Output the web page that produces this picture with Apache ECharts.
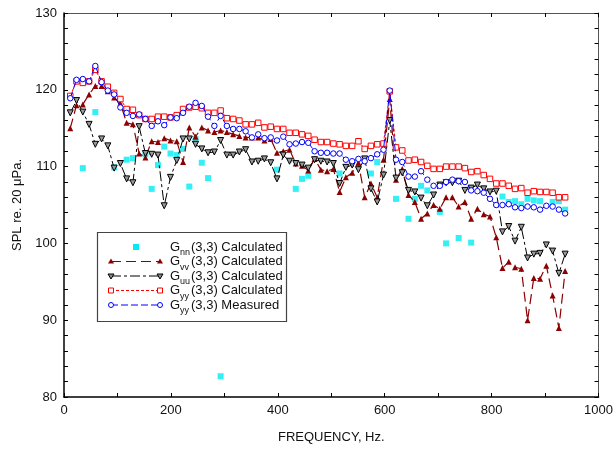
<!DOCTYPE html>
<html>
<head>
<meta charset="utf-8">
<script src="https://cdn.jsdelivr.net/npm/echarts@6/dist/echarts.min.js"></script>
<style>
  html, body { margin: 0; padding: 0; background: #fff; }
  #chart { width: 616px; height: 449px; }
</style>
</head>
<body>
<div id="chart"></div>
<script>
// Frequency grid of the narrow-band spectra (Hz)
const freq = [11.7, 23.4, 35.2, 46.9, 58.6, 70.3, 82.0, 93.8, 105.5, 117.2,
  128.9, 140.6, 152.3, 164.1, 175.8, 187.5, 199.2, 210.9, 222.7, 234.4,
  246.1, 257.8, 269.5, 281.3, 293.0, 304.7, 316.4, 328.1, 339.8, 351.6,
  363.3, 375.0, 386.7, 398.4, 410.2, 421.9, 433.6, 445.3, 457.0, 468.8,
  480.5, 492.2, 503.9, 515.6, 527.3, 539.1, 550.8, 562.5, 574.2, 585.9,
  597.7, 609.4, 621.1, 632.8, 644.5, 656.3, 668.0, 679.7, 691.4, 703.1,
  714.8, 726.6, 738.3, 750.0, 761.7, 773.4, 785.2, 796.9, 808.6, 820.3,
  832.0, 843.8, 855.5, 867.2, 878.9, 890.6, 902.3, 914.1, 925.8, 937.5];

// G_vv(3,3) calculated, dB
const gvv = [115.0, 118.0, 118.1, 119.4, 120.5, 120.5, 119.8, 119.0, 118.2, 115.7,
  115.5, 111.7, 111.2, 113.3, 113.2, 113.7, 113.4, 113.3, 110.6, 115.1,
  113.9, 115.1, 114.7, 114.5, 114.7, 114.5, 114.2, 114.0, 113.8, 113.8,
  113.8, 113.4, 113.6, 111.8, 112.0, 112.2, 110.4, 110.1, 109.5, 111.0,
  109.6, 109.4, 109.7, 106.7, 108.6, 109.2, 110.5, 106.0, 107.8, 106.0,
  110.9, 118.8, 108.3, 109.7, 106.3, 105.4, 103.2, 103.9, 105.0, 104.5,
  106.0, 106.0, 104.8, 105.4, 103.2, 104.5, 103.8, 103.5, 100.8, 96.8,
  97.6, 96.9, 96.7, 90.0, 95.5, 95.4, 97.1, 93.2, 89.0, 96.4];

// G_uu(3,3) calculated, dB
const guu = [117.0, 118.6, 117.1, 115.5, 112.9, 113.6, 112.7, 109.8, 110.4, 108.4,
  107.9, 115.2, 111.7, 111.6, 111.5, 104.9, 108.6, 110.8, 113.6, 113.6,
  112.9, 112.3, 111.8, 111.9, 113.4, 111.5, 111.5, 111.9, 112.2, 110.6,
  110.7, 111.0, 110.5, 108.4, 111.5, 110.7, 110.4, 110.2, 109.8, 110.9,
  110.7, 110.6, 110.4, 107.8, 109.9, 110.2, 109.6, 111.0, 107.1, 105.4,
  108.9, 116.0, 108.5, 109.2, 106.9, 106.7, 105.9, 104.9, 106.3, 107.6,
  107.9, 107.9, 108.1, 106.9, 107.2, 107.6, 107.1, 106.7, 106.8, 101.5,
  102.2, 100.3, 102.1, 98.1, 98.6, 98.7, 99.8, 99.0, 96.1, 98.6];

// G_yy(3,3) calculated, dB
const gyyCalc = [119.2, 121.1, 120.9, 121.1, 122.6, 121.1, 120.4, 119.6, 118.8, 117.5,
  117.4, 116.7, 116.2, 116.2, 116.5, 116.5, 116.4, 116.7, 117.5, 117.7,
  117.8, 117.6, 117.0, 117.0, 117.3, 116.3, 116.2, 116.0, 115.5, 115.5,
  115.7, 115.1, 115.2, 114.9, 114.9, 114.4, 114.4, 114.2, 114.0, 113.5,
  113.2, 113.2, 113.0, 112.9, 112.7, 112.7, 113.3, 112.3, 112.7, 112.9,
  113.0, 119.8, 112.5, 112.1, 110.8, 110.9, 110.6, 110.1, 109.7, 109.7,
  110.0, 110.0, 110.0, 109.8, 109.3, 109.4, 108.9, 108.4, 107.8, 107.8,
  107.5, 107.1, 107.2, 106.6, 106.8, 106.7, 106.7, 106.6, 106.0, 106.0];

// G_yy(3,3) measured, dB
const gyyMeas = [118.9, 121.3, 121.4, 121.1, 123.1, 121.0, 119.9, 119.4, 117.7, 117.0,
  116.6, 116.8, 116.2, 115.3, 115.9, 115.4, 116.4, 116.3, 117.0, 117.8,
  118.3, 117.9, 116.5, 115.3, 116.6, 115.3, 114.9, 114.9, 114.6, 113.8,
  114.2, 113.7, 113.8, 113.4, 113.9, 112.9, 113.0, 113.2, 113.1, 112.0,
  111.8, 111.8, 111.7, 111.7, 110.9, 110.7, 111.0, 110.7, 111.1, 111.6,
  112.2, 119.9, 110.9, 110.6, 108.7, 108.7, 109.4, 108.3, 107.5, 107.5,
  108.0, 108.3, 108.1, 108.0, 106.9, 106.8, 106.6, 105.8, 105.0, 105.0,
  105.1, 104.7, 104.6, 104.8, 104.7, 104.4, 104.9, 104.8, 104.4, 103.9];

// G_nn(3,3) calculated: only the bins where it is plotted
const gnnFreq = [35.2, 58.6, 93.8, 117.2, 128.9, 152.3, 164.1, 175.8, 187.5, 199.2,
  210.9, 222.7, 234.4, 246.1, 257.8, 269.5, 293.0, 398.4, 433.6, 445.3,
  457.0, 515.6, 574.2, 585.9, 621.1, 644.5, 656.3, 668.0, 679.7, 703.1,
  714.8, 738.3, 761.7, 820.3, 832.0, 843.8, 855.5, 867.2, 878.9, 890.6,
  914.1, 925.8, 937.5];
const gnn = [109.8, 117.1, 109.9, 110.9, 111.1, 111.6, 107.1, 110.2, 112.6, 111.7,
  111.5, 112.3, 107.4, 113.6, 110.5, 108.5, 82.7, 109.6, 107.1, 108.4,
  108.8, 109.1, 109.1, 110.6, 105.8, 103.2, 105.8, 107.5, 106.9, 104.1,
  100.0, 100.7, 100.1, 106.1, 105.4, 105.5, 105.1, 105.8, 105.6, 105.5,
  105.4, 105.5, 104.4];

const xTicks = [0, 200, 400, 600, 800, 1000];
const yTicks = [80, 90, 100, 110, 120, 130];

const C_VV = '#8b0000', C_UU = '#000000', C_YC = '#ff0000', C_YM = '#0000ff', C_NN = '#00ecf4';
const FONT = 'Liberation Sans, Arial, sans-serif';

const pairs = (xs, ys) => xs.map((x, i) => [x, ys[i]]);

const chart = echarts.init(document.getElementById('chart'), null, { renderer: 'canvas' });

const frameAxis = (extra) => Object.assign({
  type: 'value',
  axisLine: { show: true, onZero: false, lineStyle: { color: '#000', width: 1.5 } },
  axisTick: { show: true, inside: true, length: 4, lineStyle: { color: '#000', width: 1 } },
  splitLine: { show: false },
  axisLabel: { show: false }
}, extra);

// Legend drawn as graphic elements: a framed box with dashed samples and subscripted labels
const legendRows = [
  { y: 247, sub: 'nn', label: '(3,3) Calculated', color: C_NN, dash: null, sym: 'fsquare' },
  { y: 261.5, sub: 'vv', label: '(3,3) Calculated', color: C_VV, dash: [10, 5], sym: 'tri' },
  { y: 276, sub: 'uu', label: '(3,3) Calculated', color: C_UU, dash: [10, 3, 3, 3], sym: 'dtri' },
  { y: 290.5, sub: 'yy', label: '(3,3) Calculated', color: C_YC, dash: [3, 2], sym: 'osquare' },
  { y: 305, sub: 'yy', label: '(3,3) Measured', color: C_YM, dash: [7, 3], sym: 'ocircle' }
];
function legendSymbol(kind, cx, cy, color) {
  const s = 2.5;
  if (kind === 'fsquare') return { type: 'rect', shape: { x: cx - 3, y: cy - 3, width: 6, height: 6 }, style: { fill: color } };
  if (kind === 'osquare') return { type: 'rect', shape: { x: cx - s, y: cy - s, width: 2 * s, height: 2 * s }, style: { fill: '#fff', stroke: color, lineWidth: 1 } };
  if (kind === 'ocircle') return { type: 'circle', shape: { cx: cx, cy: cy, r: s }, style: { fill: '#fff', stroke: color, lineWidth: 1 } };
  if (kind === 'tri') return { type: 'polygon', shape: { points: [[cx, cy - s - 0.5], [cx + s + 0.5, cy + s - 0.5], [cx - s - 0.5, cy + s - 0.5]] }, style: { fill: color } };
  return { type: 'polygon', shape: { points: [[cx, cy + s + 0.5], [cx + s + 0.5, cy - s + 0.5], [cx - s - 0.5, cy - s + 0.5]] }, style: { fill: '#888', stroke: color, lineWidth: 1 } };
}
const legendGraphics = [{
  type: 'rect', shape: { x: 97.5, y: 232.5, width: 189, height: 89 },
  style: { fill: '#fff', stroke: '#444', lineWidth: 1.2 }, z: 100
}];
legendRows.forEach(r => {
  if (r.dash) {
    legendGraphics.push({ type: 'line', shape: { x1: 111, y1: r.y, x2: 160, y2: r.y },
      style: { stroke: r.color, lineWidth: 1.1, lineDash: r.dash }, z: 101 });
    legendGraphics.push(Object.assign(legendSymbol(r.sym, 111, r.y, r.color), { z: 102 }));
    legendGraphics.push(Object.assign(legendSymbol(r.sym, 160, r.y, r.color), { z: 102 }));
  } else {
    legendGraphics.push(Object.assign(legendSymbol(r.sym, 136, r.y, r.color), { z: 102 }));
  }
  legendGraphics.push({ type: 'text', x: 170, y: r.y, z: 102,
    style: { text: 'G', font: '13px ' + FONT, fill: '#111', verticalAlign: 'middle' } });
  legendGraphics.push({ type: 'text', x: 180, y: r.y + 6, z: 102,
    style: { text: r.sub, font: '9px ' + FONT, fill: '#111', verticalAlign: 'middle' } });
  legendGraphics.push({ type: 'text', x: 191, y: r.y, z: 102,
    style: { text: r.label, font: '13px ' + FONT, fill: '#111', verticalAlign: 'middle' } });
});

const option = {
  backgroundColor: '#fff',
  animation: false,
  grid: { left: 64, right: 15, top: 13, bottom: 51 },
  xAxis: [
    frameAxis({
      position: 'bottom', min: 0, max: 1000, interval: 100,
      name: 'FREQUENCY, Hz.', nameLocation: 'middle', nameGap: 34,
      nameTextStyle: { fontFamily: FONT, fontSize: 13, color: '#111' },
      axisLabel: { show: true, margin: 7, fontFamily: FONT, fontSize: 13, color: '#111',
        formatter: v => xTicks.indexOf(v) >= 0 ? String(v) : '' }
    }),
    frameAxis({ position: 'top', min: 0, max: 1000, interval: 100,
      axisLine: { show: true, onZero: false, lineStyle: { color: '#555', width: 1 } } })
  ],
  yAxis: [
    frameAxis({
      position: 'left', min: 80, max: 130, interval: 2,
      name: 'SPL re. 20 \u03bcPa.', nameLocation: 'middle', nameGap: 26,
      nameTextStyle: { fontFamily: FONT, fontSize: 13, color: '#111' },
      axisLabel: { show: true, margin: 7, fontFamily: FONT, fontSize: 13, color: '#111',
        formatter: v => yTicks.indexOf(v) >= 0 ? String(v) : '' }
    }),
    frameAxis({ position: 'right', min: 80, max: 130, interval: 2,
      axisLine: { show: true, onZero: false, lineStyle: { color: '#555', width: 1 } } })
  ],
  series: [
    {
      name: 'Gnn', type: 'scatter', data: pairs(gnnFreq, gnn),
      symbol: 'rect', symbolSize: 6, itemStyle: { color: C_NN }, z: 2
    },
    {
      name: 'Gvv', type: 'line', data: pairs(freq, gvv),
      symbol: 'triangle', symbolSize: 6, showAllSymbol: true,
      lineStyle: { color: C_VV, width: 1.2, type: [10, 5] },
      itemStyle: { color: C_VV }, z: 3
    },
    {
      name: 'Guu', type: 'line', data: pairs(freq, guu),
      symbol: 'triangle', symbolRotate: 180, symbolSize: 6, showAllSymbol: true,
      lineStyle: { color: C_UU, width: 1, type: [10, 3, 3, 3] },
      itemStyle: { color: '#999', borderColor: C_UU, borderWidth: 1 }, z: 4
    },
    {
      name: 'GyyCalc', type: 'line', data: pairs(freq, gyyCalc),
      symbol: 'rect', symbolSize: 5.5, showAllSymbol: true,
      lineStyle: { color: C_YC, width: 1, type: [3, 2] },
      itemStyle: { color: '#fff', borderColor: C_YC, borderWidth: 1 }, z: 5
    },
    {
      name: 'GyyMeas', type: 'line', data: pairs(freq, gyyMeas),
      symbol: 'circle', symbolSize: 5.5, showAllSymbol: true,
      lineStyle: { color: C_YM, width: 1, type: [7, 3] },
      itemStyle: { color: '#fff', borderColor: C_YM, borderWidth: 1 }, z: 6
    }
  ],
  graphic: legendGraphics
};
chart.setOption(option);
</script>
</body>
</html>
